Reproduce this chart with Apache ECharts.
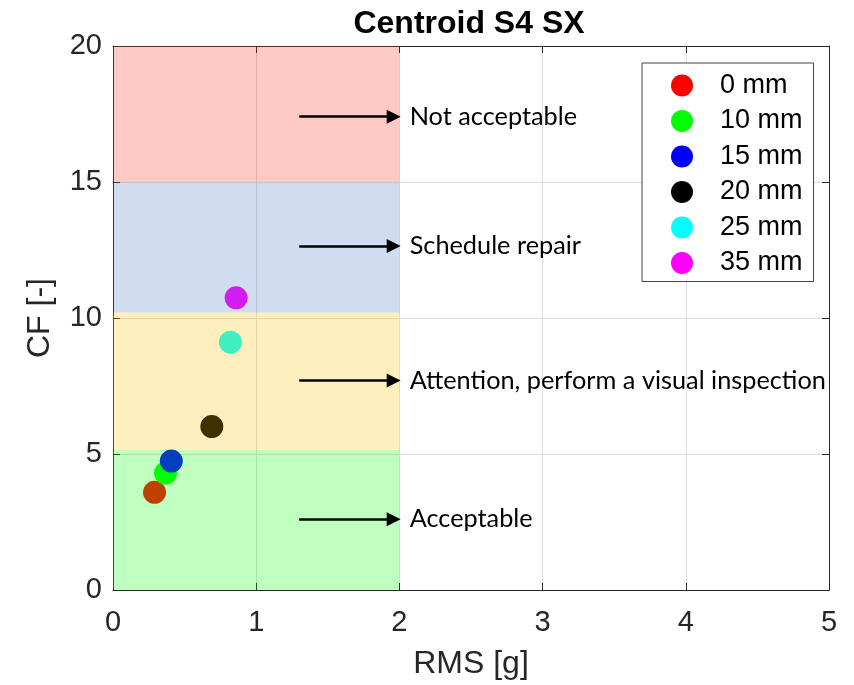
<!DOCTYPE html>
<html>
<head>
<meta charset="utf-8">
<script src="https://cdn.jsdelivr.net/npm/echarts@6/dist/echarts.min.js"></script>
<style>
  html, body { margin: 0; padding: 0; background: #fff; }
  #chart { width: 854px; height: 685px; }
</style>
</head>
<body>
<div id="chart"></div>
<script>
// Crack depth cases and their measured RMS / crest factor
const caseNames = ['0 mm', '10 mm', '15 mm', '20 mm', '25 mm', '35 mm'];
const caseColors = ['#ff0000', '#00ff00', '#0000ff', '#000000', '#00ffff', '#ff00ff'];
const rmsValues = [0.29, 0.367, 0.407, 0.69, 0.82, 0.86];
const cfValues = [3.59, 4.30, 4.74, 6.01, 9.11, 10.74];

// Severity zones (CF ranges) over RMS 0..2
const zoneLower = [0, 5.15, 10.2, 15];
const zoneUpper = [5.15, 10.2, 15, 20];
const zoneRmsMax = 2;
const zoneColors = ['rgba(0,255,0,0.25)', 'rgba(255,192,0,0.25)', 'rgba(68,114,196,0.25)', 'rgba(255,40,20,0.25)'];

// Zone annotations: arrow start / end along RMS, at a given CF
const noteTexts = ['Acceptable', 'Attention, perform a visual inspection', 'Schedule repair', 'Not acceptable'];
const noteCf = [2.6, 7.7, 12.65, 17.4];
const arrowFrom = 1.3;
const arrowTo = 1.96;

const xTicks = { min: 0, max: 5, interval: 1 };
const yTicks = { min: 0, max: 20, interval: 5 };

const axisColor = '#262626';
const sans = 'Liberation Sans, Arial, sans-serif';

const chart = echarts.init(document.getElementById('chart'));

const scatterSeries = caseNames.map((name, i) => ({
  name: name,
  type: 'scatter',
  xAxisIndex: 0,
  yAxisIndex: 0,
  symbol: 'circle',
  symbolSize: 23,
  z: 2,
  itemStyle: { color: caseColors[i], opacity: 1 },
  data: [[rmsValues[i], cfValues[i]]]
}));

// Translucent zones are laid over the markers
const zoneSeries = {
  name: 'zones',
  type: 'scatter',
  xAxisIndex: 0,
  yAxisIndex: 0,
  z: 3,
  silent: true,
  data: [],
  markArea: {
    silent: true,
    z: 3,
    label: { show: false },
    data: zoneLower.map((lo, i) => [
      { coord: [0, lo], itemStyle: { color: zoneColors[i], borderWidth: 0 } },
      { coord: [zoneRmsMax, zoneUpper[i]] }
    ])
  }
};

const arrowSeries = {
  name: 'notes',
  type: 'scatter',
  xAxisIndex: 0,
  yAxisIndex: 0,
  z: 4,
  silent: true,
  data: [],
  markLine: {
    silent: true,
    z: 5,
    symbol: ['none', 'triangle'],
    symbolSize: [14, 14],
    lineStyle: { color: '#000', width: 2.5, type: 'solid' },
    itemStyle: { color: '#000' },
    label: {
      show: true,
      position: 'end',
      distance: 16,
      formatter: '{b}',
      color: '#000',
      fontFamily: 'Lato, sans-serif',
      fontSize: 25.3
    },
    data: noteCf.map((cf, i) => [
      { name: noteTexts[i], coord: [arrowFrom, cf] },
      { coord: [arrowTo, cf] }
    ])
  }
};

const tickLabel = { fontFamily: sans, fontSize: 29, color: axisColor };

chart.setOption({
  animation: false,
  backgroundColor: '#fff',
  title: {
    text: 'Centroid S4 SX',
    left: 469,
    top: 8,
    padding: 0,
    textAlign: 'center',
    textStyle: { fontFamily: sans, fontSize: 32, fontWeight: 'bold', color: '#000' }
  },
  grid: { left: 113, right: 25, top: 46, bottom: 93, containLabel: false },
  legend: {
    data: caseNames,
    orient: 'vertical',
    left: 642,
    top: 63,
    padding: [9, 11, 5, 29],
    itemWidth: 66,
    itemHeight: 22,
    itemGap: 8.5,
    icon: 'circle',
    backgroundColor: '#fff',
    borderColor: '#444',
    borderWidth: 1,
    borderRadius: 0,
    textStyle: { fontFamily: sans, fontSize: 27, lineHeight: 27, color: '#000' }
  },
  xAxis: [
    {
      type: 'value', position: 'bottom',
      min: xTicks.min, max: xTicks.max, interval: xTicks.interval,
      name: 'RMS [g]', nameLocation: 'middle', nameGap: 58,
      nameTextStyle: { fontFamily: sans, fontSize: 32, color: axisColor },
      axisLine: { show: true, onZero: false, lineStyle: { color: axisColor, width: 1 } },
      axisTick: { show: true, inside: true, length: 7, lineStyle: { color: axisColor } },
      axisLabel: Object.assign({ margin: 18 }, tickLabel),
      splitLine: { show: true, lineStyle: { color: '#dedede', width: 1 } }
    },
    {
      type: 'value', position: 'top',
      min: xTicks.min, max: xTicks.max, interval: xTicks.interval,
      axisLine: { show: true, onZero: false, lineStyle: { color: axisColor, width: 1 } },
      axisTick: { show: true, inside: true, length: 7, lineStyle: { color: axisColor } },
      axisLabel: { show: false },
      splitLine: { show: false }
    }
  ],
  yAxis: [
    {
      type: 'value', position: 'left',
      min: yTicks.min, max: yTicks.max, interval: yTicks.interval,
      name: 'CF [-]', nameLocation: 'middle', nameGap: 57,
      nameTextStyle: { fontFamily: sans, fontSize: 32, color: axisColor },
      axisLine: { show: true, onZero: false, lineStyle: { color: axisColor, width: 1 } },
      axisTick: { show: true, inside: true, length: 7, lineStyle: { color: axisColor } },
      axisLabel: Object.assign({ margin: 11 }, tickLabel),
      splitLine: { show: true, lineStyle: { color: '#dedede', width: 1 } }
    },
    {
      type: 'value', position: 'right',
      min: yTicks.min, max: yTicks.max, interval: yTicks.interval,
      axisLine: { show: true, onZero: false, lineStyle: { color: axisColor, width: 1 } },
      axisTick: { show: true, inside: true, length: 7, lineStyle: { color: axisColor } },
      axisLabel: { show: false },
      splitLine: { show: false }
    }
  ],
  series: scatterSeries.concat([zoneSeries, arrowSeries])
});
</script>
</body>
</html>
